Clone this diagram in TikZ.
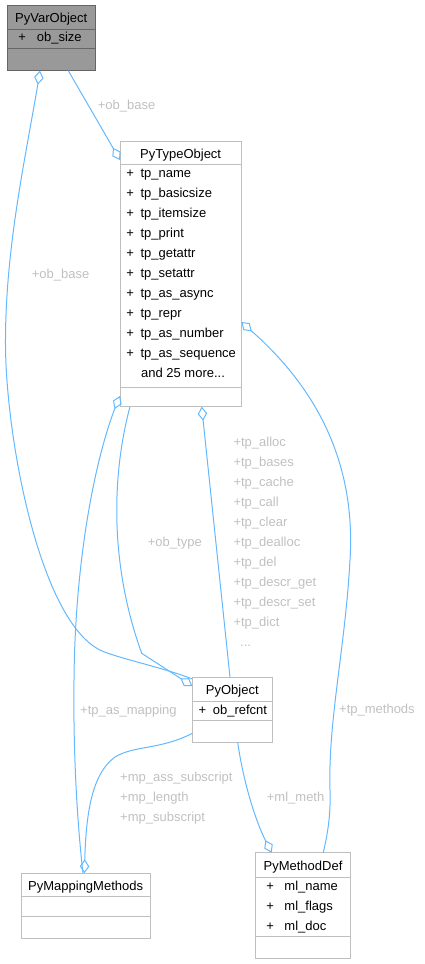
\documentclass[tikz,border=0pt]{standalone}
\usepackage{fontspec}
\setmainfont{Liberation Sans}
\usetikzlibrary{arrows.meta,calc}
\definecolor{relblue}{HTML}{63B8FF}
\definecolor{boxgrey}{HTML}{BFBFBF}
\definecolor{lblgrey}{HTML}{C0C0C0}
\definecolor{hilite}{HTML}{999999}
\definecolor{hiliteline}{HTML}{666666}
\tikzset{
  classpart/.style={draw=boxgrey, line width=1pt, fill=white, anchor=north west, inner sep=0pt, outer sep=0pt},
  classhead/.style={classpart, text height=10.6pt, text depth=0pt},
  hilitepart/.style={draw=hiliteline, fill=hilite},
  member/.style={anchor=base west, inner sep=0pt},
  rellabel/.style={anchor=base west, inner sep=0pt, text=lblgrey},
  aggr/.style={draw=relblue, line width=1pt, {Diamond[open,length=14pt,width=9.5pt]}-},
}

\begin{document}
\begin{tikzpicture}[x=1pt, y=-1pt, font=\fontsize{13}{15}\selectfont]
			\useasboundingbox (0,0) rectangle (425,964);
			
			%%%%% CLASSES %%%%%
			
			\node[classhead, hilitepart, minimum width=87.5pt, minimum height=24.3pt] (vobj) at (7.5,5) {PyVarObject};
			\node[classpart, hilitepart, minimum width=87.5pt, minimum height=19pt] (vobj-a) at (vobj.south west) {};
			\node[classpart, hilitepart, minimum width=87.5pt, minimum height=22.4pt] (vobj-m) at (vobj-a.south west) {};
			\node[member] (vobj-f1) at (18.2,41.7) {+\hspace{10.9pt}ob\_size};
			
			\node[classhead, minimum width=121.3pt, minimum height=22.6pt] (tobj) at (120,141.7) {PyTypeObject};
			\node[classpart, minimum width=121.3pt, minimum height=223.4pt] (tobj-a) at (tobj.south west) {};
			\node[classpart, minimum width=121.3pt, minimum height=19pt] (tobj-m) at (tobj-a.south west) {};
			\node[member] (tobj-f1) at (126.2,177.7) {+\hspace{6.6pt}tp\_name};
			\node[member] (tobj-f2) at (126.2,197.7) {+\hspace{6.6pt}tp\_basicsize};
			\node[member] (tobj-f3) at (126.2,217.7) {+\hspace{6.6pt}tp\_itemsize};
			\node[member] (tobj-f4) at (126.2,237.7) {+\hspace{6.6pt}tp\_print};
			\node[member] (tobj-f5) at (126.2,257.7) {+\hspace{6.6pt}tp\_getattr};
			\node[member] (tobj-f6) at (126.2,277.7) {+\hspace{6.6pt}tp\_setattr};
			\node[member] (tobj-f7) at (126.2,297.7) {+\hspace{6.6pt}tp\_as\_async};
			\node[member] (tobj-f8) at (126.2,317.7) {+\hspace{6.6pt}tp\_repr};
			\node[member] (tobj-f9) at (126.2,337.7) {+\hspace{6.6pt}tp\_as\_number};
			\node[member] (tobj-f10) at (126.2,357.7) {+\hspace{6.6pt}tp\_as\_sequence};
			\node[member] (tobj-more) at (140.9,377.7) {and 25 more...};
			
			\node[classhead, minimum width=80pt, minimum height=23.7pt] (pobj) at (192.3,677.3) {PyObject};
			\node[classpart, minimum width=80pt, minimum height=19.7pt] (pobj-a) at (pobj.south west) {};
			\node[classpart, minimum width=80pt, minimum height=21.6pt] (pobj-m) at (pobj-a.south west) {};
			\node[member] (pobj-f1) at (198.5,714) {+\hspace{6.6pt}ob\_refcnt};
			
			\node[classhead, minimum width=129.3pt, minimum height=23.4pt] (mmeth) at (21,873.3) {PyMappingMethods};
			\node[classpart, minimum width=129.3pt, minimum height=20pt] (mmeth-a) at (mmeth.south west) {};
			\node[classpart, minimum width=129.3pt, minimum height=21.6pt] (mmeth-m) at (mmeth-a.south west) {};
			
			\node[classhead, minimum width=94.6pt, minimum height=24.6pt] (mdef) at (255.7,852.7) {PyMethodDef};
			\node[classpart, minimum width=94.6pt, minimum height=59.4pt] (mdef-a) at (mdef.south west) {};
			\node[classpart, minimum width=94.6pt, minimum height=21.6pt] (mdef-m) at (mdef-a.south west) {};
			\node[member] (mdef-f1) at (266.2,890) {+\hspace{10.5pt}ml\_name};
			\node[member] (mdef-f2) at (266.2,910) {+\hspace{10.5pt}ml\_flags};
			\node[member] (mdef-f3) at (266.2,930) {+\hspace{10.5pt}ml\_doc};
			
			%%%%% RELATIONS %%%%%
			
			\draw[aggr] ($(tobj.south west)+(0,-4.3)$) -- ($(vobj-m.south west)+(60.8,0)$);
			\draw[aggr] ($(vobj-m.south west)+(32.5,0)$) -- (37.7,85) .. controls (25,160) and (5,250) .. (5.5,345) .. controls (6,440) and (40,620) .. (100,650) .. controls (115,657.5) and (165,668) .. ($(pobj.north west)+(0,1.7)$);
			\draw[aggr] ($(tobj-m.north west)+(0,8.3)$) -- (115,408) .. controls (95,460) and (75,560) .. (74,680) .. controls (73,760) and (78,830) .. ($(mmeth.north west)+(62,0)$);
			\draw[aggr] ($(tobj-m.south west)+(81.7,0)$) -- ($(pobj.north west)+(37.7,0)$);
			\draw[aggr] ($(pobj.north west)+(0,8.7)$) -- (141.7,653.3) .. controls (108,560) and (113,470) .. ($(tobj-m.south west)+(10,0)$);
			\draw[aggr] ($(mmeth.north west)+(63.3,0)$) .. controls (86,820) and (90,775) .. (115,757) .. controls (135,745) and (160,750) .. ($(pobj-m.south west)+(0,-9)$);
			\draw[aggr] ($(mdef.north west)+(16,0)$) .. controls (255,820) and (243,780) .. ($(pobj-m.south west)+(45.4,0)$);
			\draw[aggr] ($(tobj-a.north east)+(0,157.7)$) .. controls (330,400) and (355,480) .. (350,560) .. controls (345,650) and (328,720) .. (330,790) .. controls (331,820) and (326,840) .. ($(mdef.north west)+(67.6,0)$);
			
			%%%%% LABELS %%%%%
			
			\node[rellabel] (obbase-t) at (97.7,109.5) {+ob\_base};
			\node[rellabel] (obbase-l) at (31.7,278.3) {+ob\_base};
			\node[rellabel] (obtype) at (147.7,546) {+ob\_type};
			\node[rellabel] (slot1) at (233.3,446.3) {+tp\_alloc};
			\node[rellabel] (slot2) at (233.3,466.3) {+tp\_bases};
			\node[rellabel] (slot3) at (233.3,486.3) {+tp\_cache};
			\node[rellabel] (slot4) at (233.3,506.3) {+tp\_call};
			\node[rellabel] (slot5) at (233.3,526.3) {+tp\_clear};
			\node[rellabel] (slot6) at (233.3,546.3) {+tp\_dealloc};
			\node[rellabel] (slot7) at (233.3,566.3) {+tp\_del};
			\node[rellabel] (slot8) at (233.3,586.3) {+tp\_descr\_get};
			\node[rellabel] (slot9) at (233.3,606.3) {+tp\_descr\_set};
			\node[rellabel] (slot10) at (233.3,626.3) {+tp\_dict};
			\node[rellabel] (slotmore) at (240,646.3) {...};
			\node[rellabel] (tpmapping) at (80,714.5) {+tp\_as\_mapping};
			\node[rellabel] (mpslot1) at (120,781.7) {+mp\_ass\_subscript};
			\node[rellabel] (mpslot2) at (120,801.3) {+mp\_length};
			\node[rellabel] (mpslot3) at (120,821) {+mp\_subscript};
			\node[rellabel] (mlmeth) at (266.7,801.5) {+ml\_meth};
			\node[rellabel] (tpmethods) at (339,713) {+tp\_methods};
			
\end{tikzpicture}
\end{document}
